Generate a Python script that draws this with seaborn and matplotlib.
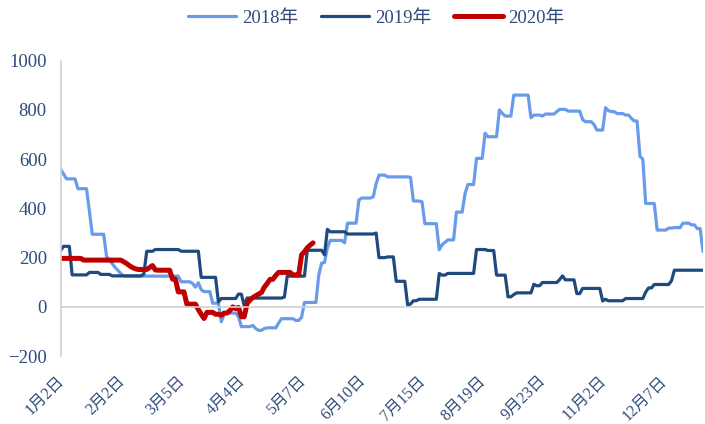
import numpy as np
import pandas as pd
import matplotlib
matplotlib.use("Agg")
import matplotlib.pyplot as plt
import seaborn as sns
from matplotlib.lines import Line2D
from matplotlib.ticker import FixedLocator

sns.set_theme(style="white")
plt.rcParams['font.family'] = ['Liberation Serif', 'Noto Sans CJK SC']

# ===== data: each series is stored as (level, number of days at that level) =====
v2018 = [558, 540, 520, 480, 390, 295, 205, 190, 175, 160, 148, 135, 125,
         102, 95, 80, 98, 70, 62, 15, -60, -30, -25, -40, -80, -75, -88, -95,
         -88, -85, -65, -48, -55, -42, 18,
         130, 178, 180, 240, 270, 260, 340, 434, 442, 447, 500, 535, 528, 526,
         430, 427, 338, 232, 252, 262, 272, 385, 460, 497, 603, 705, 691, 800,
         786, 775, 860, 768, 779, 775, 783, 793, 802, 795, 761, 752, 740, 718,
         809, 797, 793, 785, 779, 766, 755, 612, 600, 420, 312, 320, 322, 340,
         333, 318, 225]
n2018 = [1, 1, 4, 4, 1, 5, 1, 1, 1, 1, 1, 1, 20,
         4, 1, 1, 1, 1, 3, 3, 1, 1, 4, 1, 4, 1, 1, 2,
         1, 4, 1, 5, 2, 1, 5,
         1, 1, 1, 1, 5, 1, 4, 1, 4, 1, 1, 3, 8, 1,
         3, 1, 5, 1, 1, 1, 3, 3, 1, 3, 3, 1, 4, 1,
         1, 3, 6, 1, 3, 1, 4, 1, 3, 5, 1, 3, 1, 3,
         1, 1, 2, 3, 2, 1, 2, 1, 1, 4, 4, 2, 3, 3,
         2, 2, 1]

v2019 = [230, 246, 130, 140, 132, 126, 134, 226, 233, 226,
         120, 20, 34, 52, 5, 36, 40, 125, 230, 212,
         315, 305, 296, 300, 200, 203, 104, 7, 12, 25,
         31, 136, 129, 136, 233, 229, 129, 41, 50, 57,
         92, 86, 99, 111, 126, 110, 54, 75, 24, 31,
         25, 34, 60, 77, 91, 106, 149]
n2019 = [1, 3, 6, 4, 4, 11, 1, 3, 9, 7,
         6, 1, 6, 2, 1, 13, 1, 7, 6, 1,
         1, 6, 10, 1, 3, 3, 4, 1, 1, 2,
         7, 1, 2, 10, 4, 3, 4, 2, 1, 6,
         1, 2, 6, 1, 1, 4, 2, 7, 1, 1,
         6, 7, 1, 2, 6, 1, 11]

v2020 = [197, 190, 183, 176, 167, 160, 155, 152, 160, 168,
         150, 149, 113, 61, 11, -11, -30, -47, -22, -30,
         -34, -25, -15, 0, -7, -2, -40, 14, 28, 38,
         45, 52, 58, 80, 95, 112, 128, 140, 130, 211,
         224, 240, 251, 260]
n2020 = [8, 14, 1, 1, 1, 1, 1, 4, 1, 1,
         1, 5, 2, 3, 4, 1, 1, 1, 3, 2,
         1, 2, 1, 1, 1, 1, 2, 1, 1, 1,
         1, 1, 1, 1, 1, 2, 1, 5, 3, 1,
         1, 1, 1, 1]

x_labels = ['1月2日', '2月2日', '3月5日', '4月4日', '5月7日', '6月10日',
            '7月15日', '8月19日', '9月23日', '11月2日', '12月7日']
series_names = ['2018年', '2019年', '2020年']

s2018 = np.repeat(v2018, n2018)
s2019 = np.repeat(v2019, n2019)
s2020 = np.repeat(v2020, n2020)
n_days = len(s2018)

df = pd.concat([
    pd.DataFrame({'day': np.arange(len(s)), 'value': s, 'year': name})
    for s, name in zip([s2018, s2019, s2020], series_names)
])

colors = {'2018年': '#6A9BEA', '2019年': '#1F4A7E', '2020年': '#C00000'}
widths = {'2018年': 2.3, '2019年': 2.3, '2020年': 3.6}
text_color = '#2F4B7C'
axis_color = '#D0D0D0'

fig = plt.figure(figsize=(7.05, 4.24), dpi=100)
ax = fig.add_axes([0.0861, 0.160, 0.9111, 0.697])

for name in series_names:
    sub = df[df['year'] == name]
    sns.lineplot(data=sub, x='day', y='value', ax=ax, color=colors[name],
                 linewidth=widths[name], solid_joinstyle='round',
                 solid_capstyle='round', legend=False)

ax.set_xlim(0, n_days - 1)
ax.set_ylim(-200, 1000)
ax.set_xlabel('')
ax.set_ylabel('')

for side in ['top', 'right']:
    ax.spines[side].set_visible(False)
ax.spines['bottom'].set_position(('data', 0))
ax.spines['bottom'].set_color(axis_color)
ax.spines['bottom'].set_linewidth(1.2)
ax.spines['left'].set_color(axis_color)
ax.spines['left'].set_linewidth(1.2)

ax.set_yticks(range(-200, 1001, 200))
ax.tick_params(axis='y', direction='in', length=4, width=1.2, color=axis_color,
               labelcolor=text_color, labelsize=13.5, pad=10)
ax.xaxis.set_major_locator(FixedLocator(range(0, n_days, 14)))
ax.tick_params(axis='x', direction='in', length=4, width=1.2, color=axis_color,
               labelbottom=False)

# category labels sit below the plot, every 21 trading days
for k, lab in enumerate(x_labels):
    ax.text(k * 21 + 0.5, -0.075, lab, transform=ax.get_xaxis_transform(),
            rotation=45, ha='right', va='center', rotation_mode='anchor',
            fontsize=11.5, color=text_color)

handles = [Line2D([0], [0], color=colors[n], linewidth=widths[n],
                  solid_capstyle='round') for n in series_names]
ax.legend(handles, series_names, loc='center',
          bbox_to_anchor=(376 / 705, 1 - 18 / 424), bbox_transform=fig.transFigure,
          ncol=3, frameon=False, handlelength=2.6, columnspacing=1.2,
          handletextpad=0.3, fontsize=13.5, labelcolor=text_color)

fig.savefig('out.png', dpi=100)
plt.close(fig)
